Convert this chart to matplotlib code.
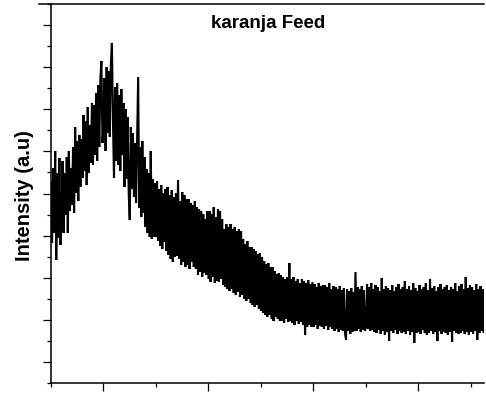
import numpy as np
import matplotlib
matplotlib.use("Agg")
import matplotlib.pyplot as plt
from matplotlib.ticker import FixedLocator, NullFormatter
from matplotlib.lines import Line2D

# 2-theta grid (degrees)
two_theta_start = 5.0
two_theta_step = 0.1

# Intensity (a.u.), one row per degree (x.0 ... x.9)
intensity_rows = [
    [200, 140, 215, 150, 232, 123, 210, 145, 225, 138],   # 5
    [165, 222, 150, 210, 168, 226, 150, 232, 172, 215],   # 6
    [178, 236, 170, 256, 190, 242, 182, 248, 196, 244],   # 7
    [205, 268, 212, 262, 198, 276, 210, 258, 220, 280],   # 8
    [218, 278, 228, 290, 222, 298, 236, 304, 322, 240],   # 9
    [258, 305, 232, 316, 250, 312, 246, 318, 340, 262],   # 10
    [205, 296, 222, 300, 218, 288, 212, 294, 228, 280],   # 11
    [196, 274, 204, 266, 190, 163, 256, 194, 250, 186],   # 12
    [240, 180, 246, 306, 175, 236, 166, 242, 170, 226],   # 13
    [156, 214, 150, 210, 146, 232, 144, 204, 146, 200],   # 14
    [146, 202, 142, 194, 137, 198, 134, 190, 141, 194],   # 15
    [132, 196, 128, 188, 124, 193, 121, 186, 126, 190],   # 16
    [127, 203, 124, 182, 118, 191, 121, 188, 116, 184],   # 17
    [118, 184, 114, 180, 121, 178, 116, 182, 114, 176],   # 18
    [108, 174, 111, 172, 106, 169, 110, 164, 108, 172],   # 19
    [104, 172, 101, 169, 106, 176, 100, 166, 102, 174],   # 20
    [101, 172, 104, 164, 98, 154, 96, 159, 94, 156],      # 21
    [92, 159, 94, 154, 90, 156, 88, 152, 91, 154],        # 22
    [86, 152, 88, 144, 84, 139, 82, 142, 84, 136],        # 23
    [80, 136, 78, 134, 76, 132, 78, 129, 74, 130],        # 24
    [72, 126, 70, 122, 68, 119, 66, 120, 68, 116],        # 25
    [64, 116, 62, 112, 66, 109, 64, 110, 62, 108],        # 26
    [62, 106, 60, 104, 64, 106, 61, 120, 62, 104],        # 27
    [60, 106, 58, 102, 62, 104, 59, 100, 61, 104],        # 28
    [58, 102, 48, 100, 56, 103, 58, 99, 56, 101],         # 29
    [56, 99, 58, 96, 54, 100, 57, 97, 56, 98],            # 30
    [54, 98, 57, 96, 53, 100, 56, 94, 54, 97],            # 31
    [52, 96, 54, 94, 51, 97, 53, 93, 52, 95],             # 32
    [50, 43, 94, 52, 92, 49, 95, 51, 91, 52],             # 33
    [111, 52, 96, 54, 94, 51, 97, 53, 93, 52],            # 34
    [56, 99, 54, 96, 52, 100, 53, 94, 51, 98],            # 35
    [50, 96, 53, 92, 49, 105, 52, 94, 48, 97],            # 36
    [51, 95, 42, 93, 52, 98, 50, 92, 53, 96],             # 37
    [49, 99, 52, 94, 50, 96, 51, 102, 49, 94],            # 38
    [52, 97, 48, 93, 51, 100, 40, 95, 50, 92],            # 39
    [51, 98, 49, 94, 53, 96, 50, 100, 48, 93],            # 40
    [50, 104, 52, 95, 49, 97, 51, 92, 42, 96],            # 41
    [52, 99, 49, 94, 51, 96, 50, 98, 48, 93],             # 42
    [51, 96, 41, 94, 52, 100, 50, 92, 49, 97],            # 43
    [50, 99, 52, 94, 49, 106, 51, 95, 48, 98],            # 44
    [51, 96, 49, 93, 52, 99, 43, 94, 50, 97],             # 45
    [52, 94, 51],                                         # 46
]

title_text = "karanja Feed"
ylabel_text = "Intensity (a.u)"
x_major_ticks = [10, 20, 30, 40]
x_minor_ticks = [5, 15, 25, 35, 45]

intensity = np.array([v for row in intensity_rows for v in row], dtype=float)
two_theta = two_theta_start + two_theta_step * np.arange(len(intensity))

plt.rcParams['font.family'] = ['Liberation Sans', 'DejaVu Sans']

W, H = 486, 394
fig = plt.figure(figsize=(W / 100, H / 100), dpi=100)
ax = fig.add_axes([51 / W, 11 / H, 433 / W, 379 / H])

ax.plot(two_theta, intensity, color='black', linewidth=1.5, solid_joinstyle='miter')

ax.set_xlim(5.0, 46.24)
ax.set_ylim(0, 379)

ax.xaxis.set_major_locator(FixedLocator(x_major_ticks))
ax.xaxis.set_minor_locator(FixedLocator(x_minor_ticks))
y_step = 42.1
ax.yaxis.set_major_locator(FixedLocator([y_step / 2 + y_step * k for k in range(9)]))
ax.yaxis.set_minor_locator(FixedLocator([y_step * k for k in range(10)]))
ax.xaxis.set_major_formatter(NullFormatter())
ax.yaxis.set_major_formatter(NullFormatter())

ax.tick_params(axis='both', which='major', direction='out', length=5.8, width=0.9, color='black')
ax.tick_params(axis='both', which='minor', direction='out', length=2.9, width=0.9, color='black')
ax.tick_params(top=False, right=False, which='both')

ax.spines['right'].set_visible(False)
for s in ['left', 'bottom', 'top']:
    ax.spines[s].set_linewidth(1.1)
    ax.spines[s].set_color('black')

# small extension of the top frame line to the left of the y-axis
ax.add_line(Line2D([-12 / 433, 0], [1, 1], transform=ax.transAxes, color='black',
                   linewidth=1.1, clip_on=False))

fig.text(268 / W, 1 - 24 / H, title_text, ha='center', va='center',
         fontsize=13.5, fontweight='bold')
fig.text(24 / W, 1 - 196 / H, ylabel_text, ha='center', va='center',
         rotation=90, fontsize=14.5, fontweight='bold')

fig.savefig("out.png", dpi=100)
